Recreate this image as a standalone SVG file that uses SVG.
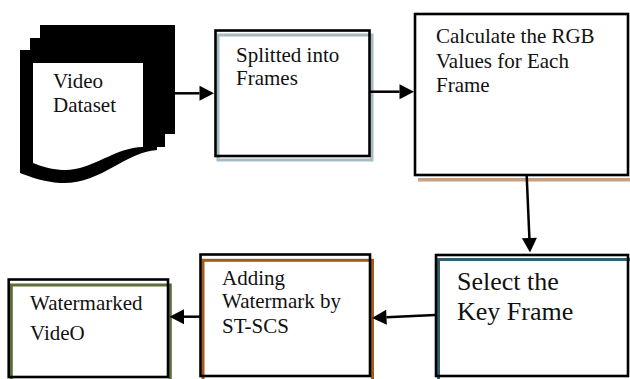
<svg xmlns="http://www.w3.org/2000/svg" width="630" height="379" viewBox="0 0 630 379">
<style>
text{font-family:"Liberation Serif","Times New Roman",serif;font-size:21px;fill:#111}
.big{font-size:26px}
.box{fill:none;stroke:#000;stroke-width:2.6}
.sh{fill:none;stroke-width:3}
.conn line{stroke:#000;stroke-width:2.5}
</style>
<defs>
<marker id="ah" markerUnits="userSpaceOnUse" markerWidth="15" markerHeight="16" refX="0" refY="7.5" orient="auto" overflow="visible">
<path d="M0,0 L14.5,7.5 L0,15 Z" fill="#000"/>
</marker>
</defs>
<rect width="630" height="379" fill="#fff"/>
<g id="video-dataset">
<rect x="40" y="25" width="135" height="109" fill="#000"/>
<rect x="30" y="38" width="135" height="109" fill="#000"/>
<path d="M20,50 H157 V150 C125,152 100,185 60,183 C45,182 30,177 20,173 Z" fill="#000"/>
<path d="M33,63 H143 V147 C115,147 90,172 62,170 C50,169 40,166 33,163 Z" fill="#fff"/>
<text x="53" y="88">Video</text>
<text x="53" y="112">Dataset</text>
</g>
<g id="splitted">
<rect x="218" y="35" width="154" height="125" class="sh" stroke="#a6bac4"/>
<rect x="215.5" y="30.5" width="154" height="125.5" class="box"/>
<text x="236" y="62">Splitted into</text>
<text x="236" y="85">Frames</text>
</g>
<g id="calculate">
<line x1="418" y1="179.7" x2="630" y2="179.7" stroke="#c9a080" stroke-width="3.5"/>
<rect x="415" y="14" width="213" height="161" class="box"/>
<text x="436" y="43">Calculate the RGB</text>
<text x="436" y="68">Values for Each</text>
<text x="436" y="92">Frame</text>
</g>
<g id="select">
<rect x="438.5" y="259.5" width="196" height="125" class="sh" stroke="#2f6070"/>
<rect x="436" y="255" width="192" height="121" class="box"/>
<text class="big" x="457" y="290">Select the</text>
<text class="big" x="457" y="320">Key Frame</text>
</g>
<g id="adding">
<rect x="203" y="260.3" width="169.5" height="125" class="sh" stroke="#a65a1a"/>
<rect x="200.5" y="254.5" width="169.5" height="121.5" class="box"/>
<text x="222" y="285">Adding</text>
<text x="222" y="308">Watermark by</text>
<text x="222" y="333">ST-SCS</text>
</g>
<g id="watermarked">
<rect x="11.3" y="285" width="159" height="110" class="sh" stroke="#5a6e35"/>
<rect x="8.7" y="279.5" width="159.3" height="97.5" class="box"/>
<text x="30" y="310">Watermarked</text>
<text x="30" y="340">VideO</text>
</g>
<g id="connectors" class="conn">
<line x1="175" y1="93.3" x2="199.5" y2="93.3" marker-end="url(#ah)"/>
<line x1="370" y1="91.7" x2="399.5" y2="91.7" marker-end="url(#ah)"/>
<line x1="526.7" y1="176" x2="529.4" y2="238" marker-end="url(#ah)"/>
<line x1="435" y1="315" x2="386.5" y2="317.3" marker-end="url(#ah)"/>
<line x1="200" y1="316.7" x2="184" y2="316.7" marker-end="url(#ah)"/>
</g>
</svg>
